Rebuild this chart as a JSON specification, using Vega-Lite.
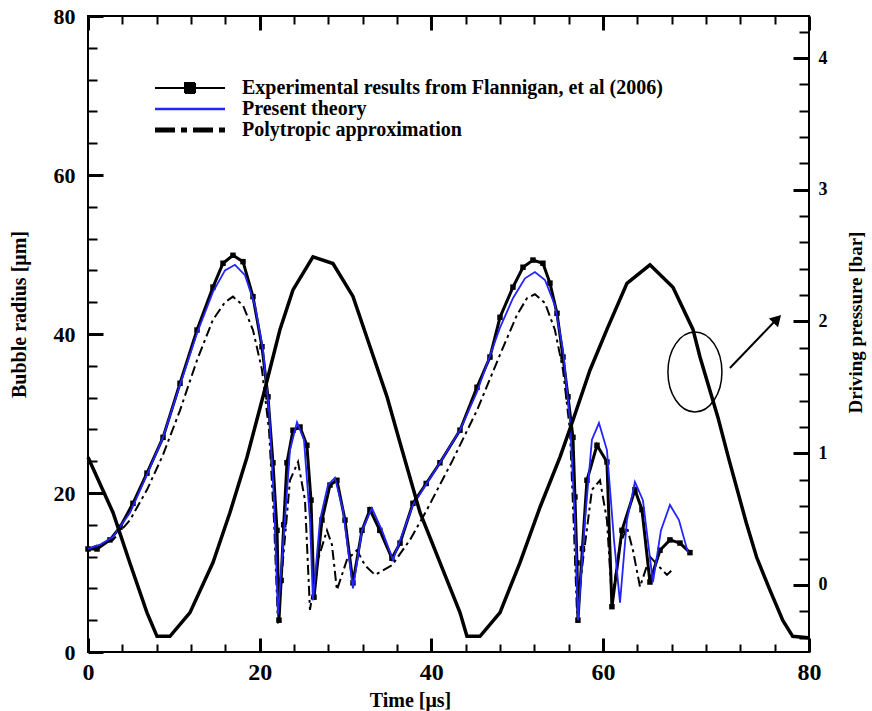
{
  "$schema": "https://vega.github.io/schema/vega-lite/v6.json",
  "width": 721,
  "height": 636,
  "autosize": {"type": "none"},
  "padding": {"left": 88, "top": 16, "right": 63, "bottom": 59},
  "background": "white",
  "config": {
    "view": {"stroke": "black", "strokeWidth": 2},
    "axis": {"zindex": 1, "domain": false, "grid": false, "ticks": true, "tickColor": "black", "tickOpacity": 1, "labelColor": "black", "titleColor": "black", "labelFont": "Liberation Serif", "titleFont": "Liberation Serif", "labelFontWeight": "bold", "titleFontWeight": "bold", "labelFlush": false, "labelOverlap": false}
  },
  "datasets": {
    "radius": [
      {"series": "exp", "t": 0, "R": 12.96}, {"series": "exp", "t": 1.05, "R": 12.96}, {"series": "exp", "t": 2.56, "R": 14.1}, {"series": "exp", "t": 3.73, "R": 15.7}, {"series": "exp", "t": 5.24, "R": 18.7}, {"series": "exp", "t": 6.87, "R": 22.5}, {"series": "exp", "t": 8.74, "R": 27.0}, {"series": "exp", "t": 10.72, "R": 33.8}, {"series": "exp", "t": 12.7, "R": 40.5}, {"series": "exp", "t": 14.56, "R": 45.9}, {"series": "exp", "t": 15.73, "R": 48.9}, {"series": "exp", "t": 16.89, "R": 49.9}, {"series": "exp", "t": 18.06, "R": 49.1}, {"series": "exp", "t": 19.22, "R": 44.7}, {"series": "exp", "t": 20.27, "R": 38.4}, {"series": "exp", "t": 20.97, "R": 32.1}, {"series": "exp", "t": 21.55, "R": 23.8}, {"series": "exp", "t": 22.02, "R": 15.3}, {"series": "exp", "t": 22.25, "R": 4.0}, {"series": "exp", "t": 22.5, "R": 9.0}, {"series": "exp", "t": 22.8, "R": 16.0}, {"series": "exp", "t": 23.18, "R": 23.8}, {"series": "exp", "t": 23.88, "R": 27.9}, {"series": "exp", "t": 24.7, "R": 28.3}, {"series": "exp", "t": 25.5, "R": 26.0}, {"series": "exp", "t": 25.98, "R": 19.1}, {"series": "exp", "t": 26.33, "R": 6.9}, {"series": "exp", "t": 27.26, "R": 16.6}, {"series": "exp", "t": 28.19, "R": 21.0}, {"series": "exp", "t": 29.0, "R": 21.6}, {"series": "exp", "t": 29.94, "R": 16.6}, {"series": "exp", "t": 30.87, "R": 8.7}, {"series": "exp", "t": 31.92, "R": 15.3}, {"series": "exp", "t": 32.85, "R": 17.9}, {"series": "exp", "t": 34.0, "R": 15.3}, {"series": "exp", "t": 35.41, "R": 11.8}, {"series": "exp", "t": 36.35, "R": 13.7}, {"series": "exp", "t": 37.86, "R": 18.7}, {"series": "exp", "t": 39.4, "R": 21.2}, {"series": "exp", "t": 41.0, "R": 23.8}, {"series": "exp", "t": 43.34, "R": 27.9}, {"series": "exp", "t": 45.32, "R": 33.3}, {"series": "exp", "t": 46.83, "R": 37.1}, {"series": "exp", "t": 48.0, "R": 42.1}, {"series": "exp", "t": 49.51, "R": 45.9}, {"series": "exp", "t": 50.68, "R": 48.4}, {"series": "exp", "t": 51.84, "R": 49.3}, {"series": "exp", "t": 53.0, "R": 48.9}, {"series": "exp", "t": 53.82, "R": 46.4}, {"series": "exp", "t": 54.64, "R": 42.6}, {"series": "exp", "t": 55.34, "R": 37.1}, {"series": "exp", "t": 55.92, "R": 32.1}, {"series": "exp", "t": 56.5, "R": 27.0}, {"series": "exp", "t": 56.73, "R": 19.5}, {"series": "exp", "t": 56.97, "R": 11.2}, {"series": "exp", "t": 57.08, "R": 4.0}, {"series": "exp", "t": 57.6, "R": 13.0}, {"series": "exp", "t": 58.13, "R": 21.6}, {"series": "exp", "t": 59.3, "R": 26.0}, {"series": "exp", "t": 60.46, "R": 23.9}, {"series": "exp", "t": 61.04, "R": 5.7}, {"series": "exp", "t": 62.21, "R": 15.3}, {"series": "exp", "t": 63.72, "R": 20.4}, {"series": "exp", "t": 64.54, "R": 17.9}, {"series": "exp", "t": 65.47, "R": 8.8}, {"series": "exp", "t": 66.64, "R": 12.8}, {"series": "exp", "t": 67.8, "R": 14.1}, {"series": "exp", "t": 68.97, "R": 13.7}, {"series": "exp", "t": 70.13, "R": 12.5},
      {"series": "poly", "t": 0, "R": 12.96}, {"series": "poly", "t": 2.91, "R": 14.1}, {"series": "poly", "t": 4.89, "R": 16.6}, {"series": "poly", "t": 6.87, "R": 20.4}, {"series": "poly", "t": 8.74, "R": 24.8}, {"series": "poly", "t": 10.72, "R": 30.4}, {"series": "poly", "t": 12.7, "R": 36.7}, {"series": "poly", "t": 14.56, "R": 41.8}, {"series": "poly", "t": 15.96, "R": 44.0}, {"series": "poly", "t": 16.89, "R": 44.7}, {"series": "poly", "t": 18.06, "R": 43.6}, {"series": "poly", "t": 19.22, "R": 40.5}, {"series": "poly", "t": 20.27, "R": 35.5}, {"series": "poly", "t": 21.09, "R": 27.9}, {"series": "poly", "t": 21.67, "R": 16.6}, {"series": "poly", "t": 22.13, "R": 3.6}, {"series": "poly", "t": 22.72, "R": 11.6}, {"series": "poly", "t": 23.53, "R": 21.6}, {"series": "poly", "t": 24.47, "R": 23.9}, {"series": "poly", "t": 25.28, "R": 19.1}, {"series": "poly", "t": 25.86, "R": 5.3}, {"series": "poly", "t": 26.79, "R": 11.6}, {"series": "poly", "t": 27.84, "R": 15.3}, {"series": "poly", "t": 28.42, "R": 13.5}, {"series": "poly", "t": 29.0, "R": 7.8}, {"series": "poly", "t": 30.17, "R": 11.6}, {"series": "poly", "t": 31.34, "R": 12.8}, {"series": "poly", "t": 32.27, "R": 10.9}, {"series": "poly", "t": 33.43, "R": 9.7}, {"series": "poly", "t": 35.41, "R": 10.9}, {"series": "poly", "t": 37.51, "R": 14.1}, {"series": "poly", "t": 39.49, "R": 17.9}, {"series": "poly", "t": 42.52, "R": 24.2}, {"series": "poly", "t": 45.32, "R": 30.4}, {"series": "poly", "t": 48.0, "R": 37.4}, {"series": "poly", "t": 49.98, "R": 42.4}, {"series": "poly", "t": 51.14, "R": 44.5}, {"series": "poly", "t": 52.07, "R": 45.0}, {"series": "poly", "t": 53.24, "R": 43.9}, {"series": "poly", "t": 54.4, "R": 40.5}, {"series": "poly", "t": 55.34, "R": 35.5}, {"series": "poly", "t": 56.15, "R": 27.9}, {"series": "poly", "t": 56.62, "R": 15.3}, {"series": "poly", "t": 56.97, "R": 4.9}, {"series": "poly", "t": 57.67, "R": 11.6}, {"series": "poly", "t": 58.71, "R": 20.4}, {"series": "poly", "t": 59.65, "R": 21.6}, {"series": "poly", "t": 60.46, "R": 16.6}, {"series": "poly", "t": 61.04, "R": 6.5}, {"series": "poly", "t": 61.98, "R": 13.5}, {"series": "poly", "t": 62.79, "R": 15.7}, {"series": "poly", "t": 63.49, "R": 12.8}, {"series": "poly", "t": 64.31, "R": 8.2}, {"series": "poly", "t": 65.47, "R": 12.0}, {"series": "poly", "t": 66.4, "R": 10.9}, {"series": "poly", "t": 67.45, "R": 9.7}, {"series": "poly", "t": 68.03, "R": 10.3},
      {"series": "theory", "t": 0, "R": 12.96}, {"series": "theory", "t": 1.4, "R": 13.5}, {"series": "theory", "t": 2.91, "R": 14.5}, {"series": "theory", "t": 4.89, "R": 17.5}, {"series": "theory", "t": 6.87, "R": 22.3}, {"series": "theory", "t": 8.74, "R": 27.0}, {"series": "theory", "t": 10.72, "R": 33.6}, {"series": "theory", "t": 12.7, "R": 40.1}, {"series": "theory", "t": 14.56, "R": 45.3}, {"series": "theory", "t": 15.96, "R": 48.0}, {"series": "theory", "t": 17.12, "R": 48.7}, {"series": "theory", "t": 18.29, "R": 47.4}, {"series": "theory", "t": 19.45, "R": 43.6}, {"series": "theory", "t": 20.39, "R": 38.0}, {"series": "theory", "t": 21.09, "R": 30.4}, {"series": "theory", "t": 21.67, "R": 19.1}, {"series": "theory", "t": 22.13, "R": 4.7}, {"series": "theory", "t": 22.6, "R": 11.6}, {"series": "theory", "t": 23.53, "R": 25.4}, {"series": "theory", "t": 24.35, "R": 28.9}, {"series": "theory", "t": 25.16, "R": 26.7}, {"series": "theory", "t": 25.86, "R": 16.6}, {"series": "theory", "t": 26.21, "R": 6.5}, {"series": "theory", "t": 27.03, "R": 16.6}, {"series": "theory", "t": 27.96, "R": 21.0}, {"series": "theory", "t": 28.77, "R": 21.9}, {"series": "theory", "t": 29.7, "R": 17.9}, {"series": "theory", "t": 30.87, "R": 8.0}, {"series": "theory", "t": 31.92, "R": 15.3}, {"series": "theory", "t": 33.08, "R": 18.1}, {"series": "theory", "t": 34.25, "R": 15.3}, {"series": "theory", "t": 35.53, "R": 11.6}, {"series": "theory", "t": 37.86, "R": 18.5}, {"series": "theory", "t": 41.0, "R": 23.8}, {"series": "theory", "t": 43.34, "R": 27.9}, {"series": "theory", "t": 45.32, "R": 32.7}, {"series": "theory", "t": 48.0, "R": 40.8}, {"series": "theory", "t": 49.51, "R": 44.5}, {"series": "theory", "t": 50.91, "R": 47.0}, {"series": "theory", "t": 52.07, "R": 47.8}, {"series": "theory", "t": 53.24, "R": 46.8}, {"series": "theory", "t": 54.4, "R": 43.6}, {"series": "theory", "t": 55.34, "R": 38.0}, {"series": "theory", "t": 56.15, "R": 29.2}, {"series": "theory", "t": 56.73, "R": 16.6}, {"series": "theory", "t": 57.08, "R": 4.0}, {"series": "theory", "t": 57.9, "R": 16.6}, {"series": "theory", "t": 58.71, "R": 26.7}, {"series": "theory", "t": 59.53, "R": 28.8}, {"series": "theory", "t": 60.46, "R": 25.4}, {"series": "theory", "t": 61.28, "R": 14.1}, {"series": "theory", "t": 61.98, "R": 6.2}, {"series": "theory", "t": 62.79, "R": 16.6}, {"series": "theory", "t": 63.72, "R": 21.4}, {"series": "theory", "t": 64.65, "R": 19.1}, {"series": "theory", "t": 65.82, "R": 8.8}, {"series": "theory", "t": 66.75, "R": 15.3}, {"series": "theory", "t": 67.8, "R": 18.5}, {"series": "theory", "t": 68.85, "R": 16.6}, {"series": "theory", "t": 69.9, "R": 12.5}
    ],
    "pressure": [
      {"t": 0, "P": 0.97}, {"t": 2.91, "P": 0.55}, {"t": 4.89, "P": 0.165}, {"t": 6.87, "P": -0.21}, {"t": 8.04, "P": -0.39}, {"t": 9.55, "P": -0.39}, {"t": 11.88, "P": -0.21}, {"t": 14.56, "P": 0.17}, {"t": 16.54, "P": 0.55}, {"t": 18.52, "P": 0.97}, {"t": 20.39, "P": 1.43}, {"t": 22.37, "P": 1.94}, {"t": 23.88, "P": 2.24}, {"t": 26.21, "P": 2.49}, {"t": 28.54, "P": 2.44}, {"t": 30.87, "P": 2.19}, {"t": 32.85, "P": 1.81}, {"t": 34.83, "P": 1.43}, {"t": 36.35, "P": 1.08}, {"t": 38.68, "P": 0.55}, {"t": 41.01, "P": 0.17}, {"t": 43.34, "P": -0.21}, {"t": 44.15, "P": -0.39}, {"t": 45.67, "P": -0.39}, {"t": 48.0, "P": -0.21}, {"t": 50.33, "P": 0.17}, {"t": 52.66, "P": 0.59}, {"t": 54.99, "P": 0.97}, {"t": 56.5, "P": 1.25}, {"t": 58.48, "P": 1.63}, {"t": 60.46, "P": 1.94}, {"t": 62.79, "P": 2.29}, {"t": 65.47, "P": 2.43}, {"t": 68.15, "P": 2.26}, {"t": 70.48, "P": 1.94}, {"t": 71.3, "P": 1.73}, {"t": 73.4, "P": 1.27}, {"t": 74.6, "P": 0.97}, {"t": 76.7, "P": 0.47}, {"t": 77.9, "P": 0.21}, {"t": 79.45, "P": -0.04}, {"t": 80.95, "P": -0.27}, {"t": 82.1, "P": -0.39}, {"t": 83.9, "P": -0.40}
    ],
    "arrow": [{"t": 74.79, "P": 1.647}, {"t": 80.15, "P": 2.011}],
    "ellipse": [{"t": 70.71, "P": 1.617}],
    "head": [{"t": 80.3, "P": 2.02}]
  },
  "layer": [
    {
      "data": {"name": "radius"},
      "transform": [{"filter": "datum.series == 'exp'"}],
      "mark": {"type": "line", "strokeWidth": 3},
      "encoding": {
        "x": {"field": "t", "type": "quantitative", "scale": {"domain": [0, 84], "nice": false, "zero": false},
          "axis": {"orient": "bottom", "ticks": true, "tickColor": "black", "tickOpacity": 1, "values": [0, 4, 8, 12, 16, 20, 24, 28, 32, 36, 40, 44, 48, 52, 56, 60, 64, 68, 72, 76, 80, 84],
            "labelExpr": "datum.value == 84 ? '80' : ((datum.value % 20 == 0 && datum.value < 80) ? datum.label : '')",
            "tickSize": {"condition": {"test": "(datum.value % 20 == 0 && datum.value < 80) || datum.value == 84", "value": -14}, "value": -8},
            "tickWidth": {"condition": {"test": "(datum.value % 20 == 0 && datum.value < 80) || datum.value == 84", "value": 3}, "value": 2},
            "labelFontSize": 24, "labelPadding": 22, "title": "Time [μs]", "titleFontSize": 20, "titleX": 322, "titlePadding": 0}},
        "y": {"field": "R", "type": "quantitative", "scale": {"domain": [0, 80], "nice": false, "zero": false},
          "axis": {"orient": "left", "ticks": true, "tickColor": "black", "tickOpacity": 1, "values": [0, 4, 8, 12, 16, 20, 24, 28, 32, 36, 40, 44, 48, 52, 56, 60, 64, 68, 72, 76, 80],
            "labelExpr": "datum.value % 20 == 0 ? datum.label : ''",
            "tickSize": {"condition": {"test": "datum.value % 20 == 0", "value": -15}, "value": -9},
            "tickWidth": {"condition": {"test": "datum.value % 20 == 0", "value": 3}, "value": 2},
            "labelFontSize": 22, "labelPadding": 28, "title": "Bubble radius [μm]", "titleFontSize": 20, "titleY": 298, "titlePadding": 24}},
        "color": {"field": "series", "type": "nominal", "scale": {"domain": ["exp", "theory", "poly"], "range": ["black", "#2424ff", "black"]},
          "legend": {
            "orient": "none", "legendX": 92, "legendY": 62, "title": null, "padding": 0,
            "labelExpr": "datum.value == 'exp' ? 'Experimental results from Flannigan, et al (2006)' : datum.value == 'theory' ? 'Present theory' : 'Polytropic approximation'",
            "labelFont": "Liberation Serif", "labelFontWeight": "bold", "labelFontSize": 20, "labelColor": "black", "labelLimit": 0,
            "symbolSize": 100, "labelOffset": 42, "rowPadding": 1,
            "encode": {"symbols": {"update": {
              "shape": {"signal": "datum.value == 'exp' ? 'M-7,0H7M-1,-1H1V1H-1Z' : 'M-7,0H7'"},
              "fill": {"value": "black"},
              "strokeWidth": {"signal": "datum.value == 'poly' ? 5 : datum.value == 'theory' ? 2.5 : 2"},
              "strokeDash": {"signal": "datum.value == 'poly' ? [20, 6, 6, 6] : [1, 0]"}
            }}}
          }}
      }
    },
    {
      "data": {"name": "radius"},
      "transform": [{"filter": "datum.series == 'exp'"}],
      "mark": {"type": "point", "shape": "square", "filled": true, "size": 30, "color": "black", "opacity": 1},
      "encoding": {
        "x": {"field": "t", "type": "quantitative", "scale": {"domain": [0, 84], "nice": false, "zero": false}, "axis": null},
        "y": {"field": "R", "type": "quantitative", "scale": {"domain": [0, 80], "nice": false, "zero": false}, "axis": null}
      }
    },
    {
      "data": {"name": "radius"},
      "transform": [{"filter": "datum.series == 'poly'"}],
      "mark": {"type": "line", "strokeWidth": 2, "strokeDash": [10, 4, 3, 4]},
      "encoding": {
        "x": {"field": "t", "type": "quantitative", "scale": {"domain": [0, 84], "nice": false, "zero": false}, "axis": null},
        "y": {"field": "R", "type": "quantitative", "scale": {"domain": [0, 80], "nice": false, "zero": false}, "axis": null},
        "color": {"field": "series", "type": "nominal", "scale": {"domain": ["exp", "theory", "poly"], "range": ["black", "#2424ff", "black"]}}
      }
    },
    {
      "data": {"name": "radius"},
      "transform": [{"filter": "datum.series == 'theory'"}],
      "mark": {"type": "line", "strokeWidth": 1.8},
      "encoding": {
        "x": {"field": "t", "type": "quantitative", "scale": {"domain": [0, 84], "nice": false, "zero": false}, "axis": null},
        "y": {"field": "R", "type": "quantitative", "scale": {"domain": [0, 80], "nice": false, "zero": false}, "axis": null},
        "color": {"field": "series", "type": "nominal", "scale": {"domain": ["exp", "theory", "poly"], "range": ["black", "#2424ff", "black"]}}
      }
    },
    {
      "data": {"name": "pressure"},
      "mark": {"type": "line", "color": "black", "strokeWidth": 3.5},
      "encoding": {
        "x": {"field": "t", "type": "quantitative", "scale": {"domain": [0, 84], "nice": false, "zero": false},
          "axis": {"orient": "top", "ticks": true, "tickColor": "black", "tickOpacity": 1, "values": [0, 4, 8, 12, 16, 20, 24, 28, 32, 36, 40, 44, 48, 52, 56, 60, 64, 68, 72, 76, 80, 84],
            "labelExpr": "''",
            "tickSize": {"condition": {"test": "(datum.value % 20 == 0 && datum.value < 80) || datum.value == 84", "value": -14}, "value": -8},
            "tickWidth": {"condition": {"test": "(datum.value % 20 == 0 && datum.value < 80) || datum.value == 84", "value": 3}, "value": 2},
            "title": null}},
        "y": {"field": "P", "type": "quantitative", "scale": {"domain": [-0.509, 4.319], "nice": false, "zero": false},
          "axis": {"orient": "right", "ticks": true, "tickColor": "black", "tickOpacity": 1, "values": [-0.4, -0.2, 0, 0.2, 0.4, 0.6, 0.8, 1, 1.2, 1.4, 1.6, 1.8, 2, 2.2, 2.4, 2.6, 2.8, 3, 3.2, 3.4, 3.6, 3.8, 4, 4.2],
            "labelExpr": "abs(datum.value - round(datum.value)) < 0.01 ? format(round(datum.value), 'd') : ''",
            "tickSize": {"condition": {"test": "abs(datum.value - round(datum.value)) < 0.01", "value": -16}, "value": -10},
            "tickWidth": {"condition": {"test": "abs(datum.value - round(datum.value)) < 0.01", "value": 3}, "value": 2},
            "labelFontSize": 18, "labelPadding": 25, "title": "Driving pressure [bar]", "titleAngle": 270, "titleFontSize": 19, "titleY": 306, "titlePadding": 38}}
      }
    },
    {
      "data": {"name": "arrow"},
      "mark": {"type": "line", "color": "black", "strokeWidth": 2},
      "encoding": {
        "x": {"field": "t", "type": "quantitative", "scale": {"domain": [0, 84], "nice": false, "zero": false}, "axis": null},
        "y": {"field": "P", "type": "quantitative", "scale": {"domain": [-0.509, 4.319], "nice": false, "zero": false}, "axis": null}
      }
    },
    {
      "data": {"name": "ellipse"},
      "mark": {"type": "point", "shape": "M-0.675,0A0.675,1 0 1,0 0.675,0A0.675,1 0 1,0 -0.675,0Z", "size": 6400, "filled": false, "color": "black", "strokeWidth": 1.5, "opacity": 1},
      "encoding": {
        "x": {"field": "t", "type": "quantitative", "scale": {"domain": [0, 84], "nice": false, "zero": false}, "axis": null},
        "y": {"field": "P", "type": "quantitative", "scale": {"domain": [-0.509, 4.319], "nice": false, "zero": false}, "axis": null}
      }
    },
    {
      "data": {"name": "head"},
      "mark": {"type": "point", "shape": "triangle-up", "size": 160, "filled": true, "color": "black", "angle": 44, "opacity": 1},
      "encoding": {
        "x": {"field": "t", "type": "quantitative", "scale": {"domain": [0, 84], "nice": false, "zero": false}, "axis": null},
        "y": {"field": "P", "type": "quantitative", "scale": {"domain": [-0.509, 4.319], "nice": false, "zero": false}, "axis": null}
      }
    }
  ],
  "resolve": {"scale": {"y": "independent"}, "axis": {"x": "independent", "y": "independent"}}
}
